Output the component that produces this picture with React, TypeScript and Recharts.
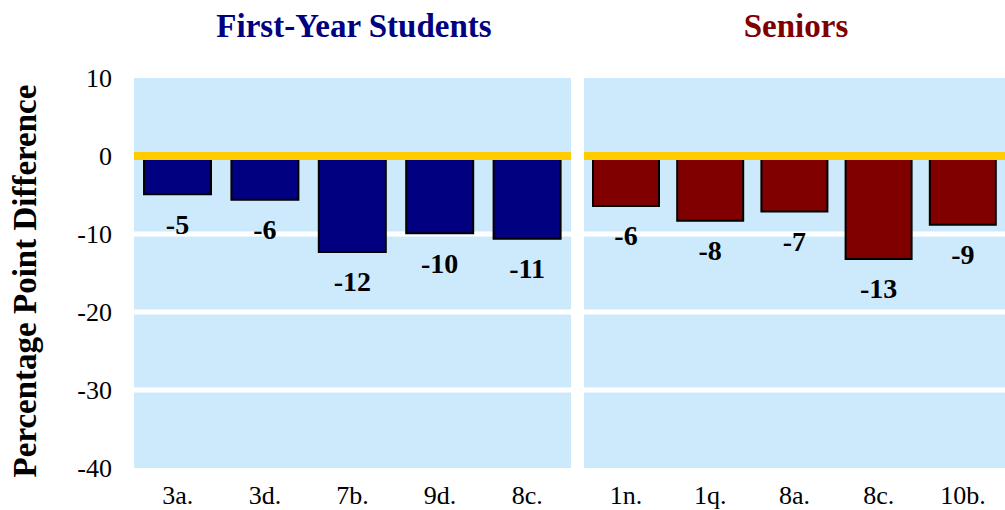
import React from "react";
import { Bar, BarChart, CartesianGrid, LabelList, ReferenceLine, XAxis, YAxis } from "recharts";

const firstYearCategories = ["3a.", "3d.", "7b.", "9d.", "8c."];
const firstYearValues = [-4.9, -5.6, -12.3, -9.9, -10.6];
const seniorCategories = ["1n.", "1q.", "8a.", "8c.", "10b."];
const seniorValues = [-6.4, -8.3, -7.1, -13.2, -8.8];
const yTicks = [-40, -30, -20, -10, 0, 10];
const gridValues = [-10, -20, -30];

const NAVY = "#000080";
const MAROON = "#800000";
const PANEL = "#cdeafd";
const GOLD = "#ffcc00";
const FONT = "'Liberation Serif', 'Times New Roman', serif";

function DiffLabel(props: any) {
  const { x, y, width, height, value } = props;
  const bottom = Math.max(y, y + height);
  return (
    <text
      x={x + width / 2}
      y={bottom + 30}
      textAnchor="middle"
      dominantBaseline="central"
      fontFamily={FONT}
      fontWeight="bold"
      fontSize={28}
      fill="#000"
    >
      {Math.round(value)}
    </text>
  );
}

function Panel({
  categories,
  values,
  color,
  width,
  showAxis,
}: {
  categories: string[];
  values: number[];
  color: string;
  width: number;
  showAxis: boolean;
}) {
  const data = categories.map((name, i) => ({ name, value: values[i] }));
  return (
    <BarChart
      width={width}
      height={510}
      data={data}
      margin={{ top: 78, right: showAxis ? 4 : 0, left: 0, bottom: 0 }}
      barSize={showAxis ? 67 : 66}
    >
      <CartesianGrid
        vertical={false}
        horizontalValues={gridValues}
        stroke="#ffffff"
        strokeWidth={5}
        fill={PANEL}
        fillOpacity={1}
      />
      <XAxis
        dataKey="name"
        axisLine={false}
        tickLine={false}
        height={42}
        tickMargin={12}
        tick={{ fontFamily: FONT, fontSize: 26, fill: "#000" }}
        interval={0}
      />
      <YAxis
        hide={!showAxis}
        width={134}
        domain={[-40, 10]}
        ticks={yTicks}
        axisLine={false}
        tickLine={false}
        tickMargin={16}
        tick={{ fontFamily: FONT, fontSize: 26, fill: "#000" }}
      />
      <Bar dataKey="value" fill={color} stroke="#000" strokeWidth={2} isAnimationActive={false}>
        <LabelList dataKey="value" content={DiffLabel} />
      </Bar>
      <ReferenceLine y={0} stroke={GOLD} strokeWidth={8} />
    </BarChart>
  );
}

export default function App() {
  return (
    <div
      style={{
        position: "absolute",
        left: 0,
        top: 0,
        width: 1005,
        height: 510,
        background: "#fff",
        overflow: "hidden",
        fontFamily: FONT,
      }}
    >
      <div style={{ position: "absolute", left: 0, top: 0 }}>
        <Panel categories={firstYearCategories} values={firstYearValues} color={NAVY} width={575} showAxis />
      </div>
      <div style={{ position: "absolute", left: 584, top: 0 }}>
        <Panel categories={seniorCategories} values={seniorValues} color={MAROON} width={421} showAxis={false} />
      </div>
      <svg width={1005} height={510} style={{ position: "absolute", left: 0, top: 0, pointerEvents: "none" }}>
        <text x={354} y={26} textAnchor="middle" dominantBaseline="central" fontFamily={FONT} fontWeight="bold" fontSize={33} fill={NAVY}>
          First-Year Students
        </text>
        <text x={796} y={26} textAnchor="middle" dominantBaseline="central" fontFamily={FONT} fontWeight="bold" fontSize={33} fill={MAROON}>
          Seniors
        </text>
        <text
          transform="translate(25, 281) rotate(-90)"
          textAnchor="middle"
          dominantBaseline="central"
          fontFamily={FONT}
          fontWeight="bold"
          fontSize={33}
          fill="#000"
        >
          Percentage Point Difference
        </text>
      </svg>
    </div>
  );
}
